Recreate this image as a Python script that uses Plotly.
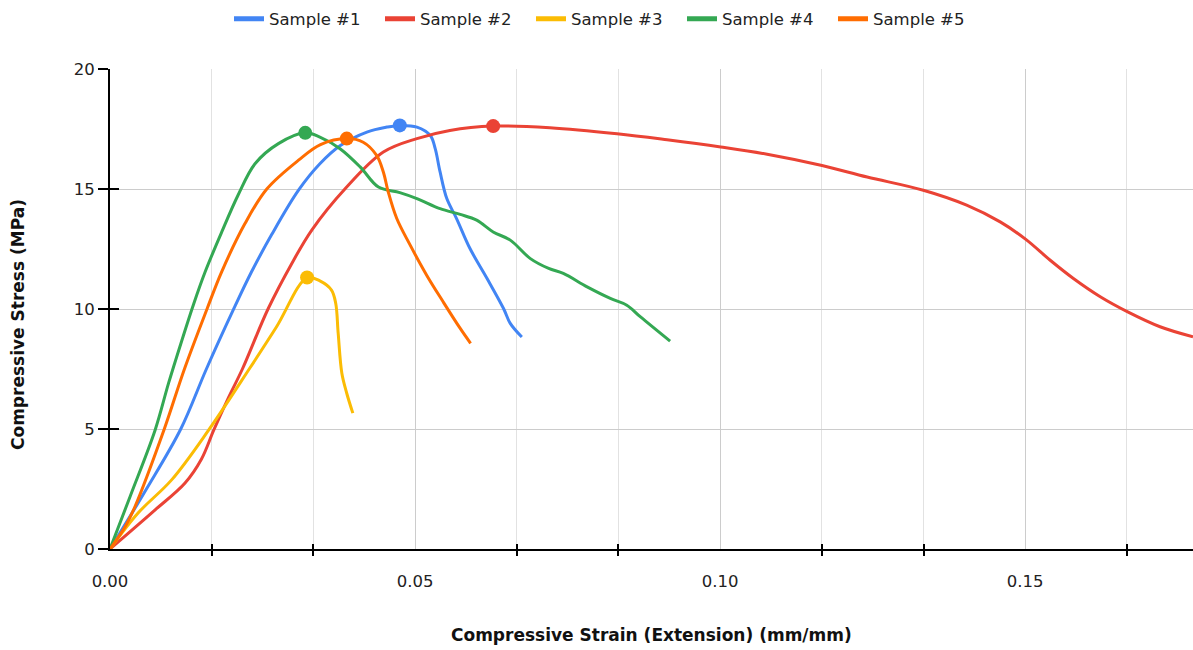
import plotly.graph_objects as go

# ---- data (strain mm/mm, stress MPa) ----
names = ["Sample #1", "Sample #2", "Sample #3", "Sample #4", "Sample #5"]
colors = ["#4285F4", "#EA4335", "#FBBC04", "#34A853", "#FF6D01"]

x1 = [0, 0.0059, 0.0116, 0.0158, 0.0202, 0.0232, 0.0265, 0.0309, 0.0344, 0.0377, 0.0421,
      0.0454, 0.0475, 0.0503, 0.0525, 0.0533, 0.0541, 0.0552, 0.0568, 0.0590, 0.0618,
      0.0645, 0.0656, 0.0675]
y1 = [0, 2.47, 5.0, 7.5, 9.96, 11.55, 13.1, 14.95, 16.05, 16.8, 17.37,
      17.58, 17.65, 17.58, 17.23, 16.68, 15.71, 14.60, 13.77, 12.52, 11.27,
      10.02, 9.40, 8.83]

x2 = [0, 0.0074, 0.0123, 0.0150, 0.0170, 0.0194, 0.0217, 0.0259, 0.0298, 0.0331, 0.0385,
      0.0448, 0.0503, 0.0557, 0.0628, 0.0721, 0.0831, 0.0913, 0.1001,
      0.1077, 0.1167, 0.1241, 0.1333, 0.1404, 0.1459, 0.1501, 0.1541, 0.1579, 0.1623,
      0.1668, 0.1721, 0.1775]
y2 = [0, 1.63, 2.75, 3.75, 4.95, 6.3, 7.5, 10.0, 11.9, 13.3, 15.0,
      16.54, 17.10, 17.44, 17.62, 17.55, 17.30, 17.05, 16.75,
      16.45, 15.98, 15.50, 14.95, 14.33, 13.63, 12.90, 12.03, 11.27, 10.51,
      9.88, 9.26, 8.84]

x3 = [0, 0.0046, 0.0101, 0.0161, 0.0229, 0.0273, 0.0323, 0.0344, 0.0363, 0.0370,
      0.0374, 0.0380, 0.0388, 0.0398]
y3 = [0, 1.50, 2.88, 4.93, 7.53, 9.26, 11.31, 11.17, 10.79, 10.23,
      8.98, 7.32, 6.49, 5.66]

x4 = [0, 0.0033, 0.0074, 0.0096, 0.0118, 0.0137, 0.0156, 0.0183, 0.0210, 0.0238, 0.0276,
      0.0320, 0.0344, 0.0377, 0.0410, 0.0440, 0.0475, 0.0503, 0.0541, 0.0574, 0.0601,
      0.0628, 0.0656, 0.0689, 0.0719, 0.0743, 0.0782, 0.0820, 0.0847, 0.0869, 0.0918]
y4 = [0, 2.19, 4.96, 6.91, 8.71, 10.2, 11.55, 13.2, 14.75, 16.06, 16.89,
      17.34, 17.16, 16.68, 15.92, 15.08, 14.85, 14.60, 14.18, 13.94, 13.70,
      13.21, 12.87, 12.10, 11.69, 11.48, 10.92, 10.44, 10.16, 9.68, 8.66]

x5 = [0, 0.0025, 0.0041, 0.0089, 0.0122, 0.0159, 0.0183, 0.0221, 0.0257, 0.0309, 0.0345,
      0.0388, 0.0415, 0.0437, 0.0448, 0.0456, 0.0470, 0.0492, 0.0519, 0.0546, 0.0574,
      0.0591]
y5 = [0, 0.94, 1.77, 5.0, 7.5, 10.0, 11.55, 13.55, 15.0, 16.2, 16.85,
      17.10, 16.95, 16.40, 15.71, 14.88, 13.77, 12.66, 11.41, 10.30, 9.19,
      8.57]

peak_x = [0.0475, 0.0628, 0.0323, 0.0320, 0.0388]
peak_y = [17.65, 17.62, 11.31, 17.34, 17.10]

x_range = [0, 0.1775]
y_range = [0, 20]
x_tick_vals = [0.0, 0.05, 0.10, 0.15]
x_tick_text = ["0.00", "0.05", "0.10", "0.15"]
x_minor_vals = [k / 60 for k in range(1, 11) if k % 3 != 0]
y_tick_vals = [0, 5, 10, 15, 20]

FONT = "DejaVu Sans"

fig = go.Figure()
series = [(x1, y1), (x2, y2), (x3, y3), (x4, y4), (x5, y5)]
for (xs, ys), n, c in zip(series, names, colors):
    fig.add_trace(go.Scatter(x=xs, y=ys, mode="lines", name=n, showlegend=False,
                             legendgroup=n,
                             line=dict(color=c, width=3, shape="spline", smoothing=1.0)))
for i, c in enumerate(colors):
    fig.add_trace(go.Scatter(x=[peak_x[i]], y=[peak_y[i]], mode="markers",
                             marker=dict(color=c, size=14), showlegend=False,
                             legendgroup=names[i], hoverinfo="skip"))
# legend entries (thicker swatches, like the reference)
for n, c in zip(names, colors):
    fig.add_trace(go.Scatter(x=[None], y=[None], mode="lines", name=n, legendgroup=n,
                             line=dict(color=c, width=5)))
# invisible helper trace so the overlay axes (inner half of tick marks) render
fig.add_trace(go.Scatter(x=[None], y=[None], xaxis="x2", yaxis="y2",
                         showlegend=False, hoverinfo="skip"))

fig.update_layout(
    width=1193, height=650,
    margin=dict(l=110, r=0, t=69, b=101, autoexpand=False),
    plot_bgcolor="white", paper_bgcolor="white",
    font=dict(family=FONT, size=16, color="#222222"),
    legend=dict(orientation="h", xref="container", x=0.5 + 10 / 1193, xanchor="center",
                yref="container", y=1 - 19 / 650, yanchor="middle",
                font=dict(size=16.5, color="#222222"), itemwidth=30,
                entrywidth=106, entrywidthmode="pixels"),
    xaxis=dict(range=x_range, tickmode="array", tickvals=x_tick_vals,
               ticktext=x_tick_text, ticks="outside", ticklen=16,
               tickcolor="rgba(0,0,0,0)", showgrid=True, gridcolor="#cccccc",
               gridwidth=1, showline=True, linecolor="black", linewidth=2,
               zeroline=False, tickfont=dict(size=16.5, color="#222222"),
               automargin=False,
               minor=dict(tickmode="array", tickvals=x_minor_vals, ticks="outside",
                          ticklen=5, tickcolor="black", tickwidth=1.5,
                          showgrid=True, gridcolor="#e2e2e2", gridwidth=1)),
    yaxis=dict(range=y_range, tickmode="array", tickvals=y_tick_vals,
               ticks="outside", ticklen=10, tickcolor="black", tickwidth=2,
               showgrid=True, gridcolor="#cccccc", gridwidth=1,
               showline=True, linecolor="black", linewidth=2, zeroline=False,
               automargin=False,
               tickfont=dict(size=16.5, color="#222222")),
    xaxis2=dict(overlaying="x", range=x_range, side="bottom", tickmode="array",
                tickvals=x_minor_vals, ticks="inside", ticklen=5, tickwidth=1.5,
                tickcolor="black", showticklabels=False, showgrid=False,
                zeroline=False, showline=False, automargin=False),
    yaxis2=dict(overlaying="y", range=y_range, side="left", tickmode="array",
                tickvals=y_tick_vals[1:], ticks="inside", ticklen=9, tickwidth=2,
                tickcolor="black", showticklabels=False, showgrid=False,
                zeroline=False, showline=False, automargin=False),
    annotations=[
        dict(text="<b>Compressive Strain (Extension) (mm/mm)</b>", xref="paper",
             yref="paper", x=0.5, y=-(635 - 549) / 480, xanchor="center",
             yanchor="middle", showarrow=False, font=dict(size=17, color="#111111")),
        dict(text="<b>Compressive Stress (MPa)</b>", xref="paper", yref="paper",
             x=(18 - 110) / 1083, y=(549 - 325) / 480, xanchor="center",
             yanchor="middle", textangle=-90, showarrow=False,
             font=dict(size=17, color="#111111")),
    ],
)

fig.write_html("out.html", config={"displayModeBar": False},
               post_script="document.body.style.margin='0';document.body.style.padding='0';")
